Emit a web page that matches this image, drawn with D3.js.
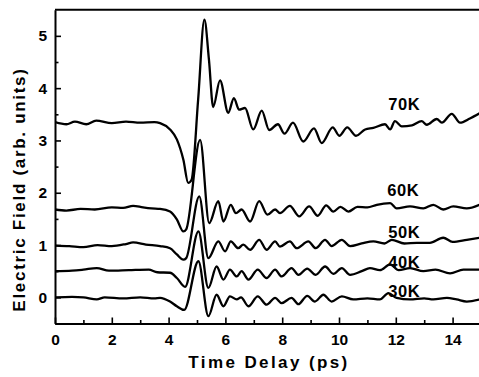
<!DOCTYPE html>
<html>
<head>
<meta charset="utf-8">
<script src="https://cdn.jsdelivr.net/npm/d3@7"></script>
<style>
  html, body { margin: 0; padding: 0; background: #fff; }
  svg { display: block; font-family: "Liberation Sans", Arial, sans-serif; }
</style>
</head>
<body>
<svg id="chart" width="479" height="377"></svg>
<script>
// ---- data (time in ps, field in arb. units) ----
const t70 = [0, 0.4, 0.7, 1.1, 1.45, 2.0, 2.5, 3.0, 3.5, 3.7, 4.05, 4.29, 4.52, 4.69, 4.81, 5.04, 5.26, 5.42, 5.57, 5.81, 6.10, 6.30, 6.48, 6.69, 6.98, 7.28, 7.54, 7.85, 8.08, 8.38, 8.74, 9.12, 9.39, 9.78, 10.01, 10.29, 10.60, 10.92, 11.21, 11.62, 11.80, 11.97, 12.21, 12.57, 12.91, 13.09, 13.44, 13.62, 13.97, 14.26, 14.61, 14.95];
const v70 = [3.35, 3.31, 3.36, 3.31, 3.38, 3.33, 3.36, 3.34, 3.35, 3.33, 3.21, 3.02, 2.63, 2.19, 2.25, 3.78, 5.31, 4.55, 3.64, 4.15, 3.53, 3.81, 3.59, 3.62, 3.21, 3.57, 3.20, 3.31, 3.13, 3.34, 2.98, 3.23, 2.95, 3.25, 3.09, 3.25, 3.09, 3.21, 3.24, 3.31, 3.21, 3.37, 3.27, 3.29, 3.37, 3.30, 3.41, 3.34, 3.51, 3.34, 3.42, 3.52];

const t60 = [0, 0.4, 0.9, 1.4, 2.0, 2.4, 2.75, 3.1, 3.4, 3.7, 4.05, 4.29, 4.52, 4.62, 5.11, 5.43, 5.75, 5.93, 6.19, 6.37, 6.57, 6.87, 7.19, 7.48, 7.75, 7.92, 8.27, 8.60, 8.95, 9.25, 9.55, 9.80, 10.05, 10.33, 10.65, 11.0, 11.33, 11.8, 12.03, 12.5, 12.97, 13.32, 13.67, 14.02, 14.5, 14.95];
const v60 = [1.68, 1.66, 1.69, 1.68, 1.72, 1.71, 1.75, 1.72, 1.70, 1.69, 1.64, 1.49, 1.26, 1.30, 3.01, 1.42, 1.84, 1.45, 1.77, 1.61, 1.68, 1.45, 1.84, 1.58, 1.68, 1.61, 1.75, 1.55, 1.74, 1.56, 1.76, 1.64, 1.73, 1.64, 1.73, 1.72, 1.77, 1.80, 1.70, 1.74, 1.70, 1.77, 1.68, 1.74, 1.70, 1.77];

const t50 = [0, 0.5, 1.0, 1.5, 2.0, 2.5, 2.75, 3.2, 3.7, 4.05, 4.29, 4.52, 4.62, 5.08, 5.40, 5.75, 5.99, 6.19, 6.45, 6.63, 6.87, 7.19, 7.45, 7.75, 7.92, 8.27, 8.51, 8.92, 9.18, 9.51, 9.74, 10.10, 10.39, 10.8, 11.21, 11.6, 11.86, 12.3, 12.74, 13.2, 13.67, 14.0, 14.5, 14.95];
const v50 = [0.99, 0.98, 0.96, 1.00, 0.98, 1.02, 1.05, 1.01, 0.98, 0.94, 0.82, 0.72, 0.75, 1.93, 0.75, 1.07, 0.88, 1.07, 0.94, 1.01, 0.91, 1.10, 0.91, 1.07, 0.97, 1.07, 0.94, 1.07, 0.94, 1.10, 0.98, 1.10, 0.98, 1.03, 1.07, 1.03, 1.10, 1.03, 1.04, 1.04, 1.14, 1.06, 1.10, 1.14];

const t40 = [0, 0.6, 1.0, 1.47, 1.9, 2.6, 3.3, 3.6, 4.05, 4.29, 4.58, 5.05, 5.40, 5.69, 5.93, 6.16, 6.40, 6.57, 6.81, 7.14, 7.45, 7.75, 7.98, 8.33, 8.57, 8.88, 9.18, 9.51, 9.80, 10.10, 10.39, 10.8, 11.09, 11.44, 11.80, 12.1, 12.5, 12.97, 13.4, 13.91, 14.38, 14.95];
const v40 = [0.50, 0.51, 0.53, 0.56, 0.51, 0.52, 0.53, 0.48, 0.47, 0.37, 0.20, 1.26, 0.18, 0.59, 0.34, 0.53, 0.40, 0.50, 0.34, 0.53, 0.37, 0.53, 0.40, 0.56, 0.43, 0.55, 0.43, 0.59, 0.45, 0.56, 0.43, 0.50, 0.56, 0.52, 0.63, 0.52, 0.56, 0.50, 0.53, 0.46, 0.53, 0.53];

const t30 = [0, 0.6, 1.0, 1.47, 1.75, 2.4, 3.0, 3.5, 3.7, 4.05, 4.29, 4.55, 5.05, 5.40, 5.69, 5.93, 6.16, 6.40, 6.55, 6.81, 7.14, 7.45, 7.75, 7.98, 8.33, 8.57, 8.88, 9.15, 9.45, 9.74, 10.10, 10.5, 11.0, 11.44, 11.74, 12.03, 12.5, 13.0, 13.32, 13.8, 14.14, 14.5, 14.95];
const v30 = [0.00, 0.01, 0.00, -0.04, 0.00, -0.02, 0.00, -0.02, -0.01, -0.08, -0.17, -0.24, 0.69, -0.36, 0.05, -0.17, 0.02, -0.04, 0.00, -0.17, 0.02, -0.14, -0.01, -0.11, -0.01, -0.13, 0.03, -0.08, 0.05, -0.08, 0.02, -0.04, -0.02, -0.04, 0.08, -0.01, -0.04, -0.02, -0.04, -0.01, -0.04, -0.08, -0.04];

const seriesNames = ["30K", "40K", "50K", "60K", "70K"];
const seriesTimes = [t30, t40, t50, t60, t70];
const seriesValues = [v30, v40, v50, v60, v70];
const labelTimes = [11.73, 11.73, 11.73, 11.7, 11.73];
const labelValues = [0.01, 0.57, 1.14, 1.93, 3.59];

const xTicks = [0, 2, 4, 6, 8, 10, 12, 14];
const xMinorTicks = [1, 3, 5, 7, 9, 11, 13, 15];
const yTicks = [0, 1, 2, 3, 4, 5];
const yMinorTicks = [-0.5, 0.5, 1.5, 2.5, 3.5, 4.5];

// ---- layout ----
const svg = d3.select("#chart");
const mLeft = 55, mRight = 481, mTop = 9.7, mBottom = 323.5;
const x = d3.scaleLinear().domain([0, 15]).range([mLeft, mRight]);
const y = d3.scaleLinear().domain([-0.5, 5.5]).range([mBottom, mTop]);

svg.append("defs").append("clipPath").attr("id", "plotclip")
  .append("rect").attr("x", mLeft).attr("y", mTop - 2).attr("width", mRight - mLeft).attr("height", mBottom - mTop + 2);

// curves
const line = d3.line()
  .x(d => x(d[0])).y(d => y(d[1]))
  .curve(d3.curveMonotoneX);

const g = svg.append("g").attr("clip-path", "url(#plotclip)");
seriesTimes.forEach((ts, i) => {
  const pts = ts.map((t, j) => [t, seriesValues[i][j]]);
  g.append("path").datum(pts)
    .attr("d", line)
    .attr("fill", "none")
    .attr("stroke", "#000")
    .attr("stroke-width", 2.3)
    .attr("stroke-linejoin", "round");
});

// labels
seriesNames.forEach((name, i) => {
  svg.append("text")
    .attr("x", x(labelTimes[i]))
    .attr("y", y(labelValues[i]))
    .attr("font-size", 16.5)
    .attr("font-weight", "bold")
    .attr("letter-spacing", 0.6)
    .text(name);
});

// top frame line
svg.append("line")
  .attr("x1", mLeft).attr("x2", 479)
  .attr("y1", y(5.5)).attr("y2", y(5.5))
  .attr("stroke", "#000").attr("stroke-width", 2);

// axes
const xAxis = svg.append("g").attr("transform", `translate(0,${mBottom})`)
  .call(d3.axisBottom(x).tickValues(xTicks).tickFormat(d3.format("d"))
    .tickSizeInner(-6).tickSizeOuter(0).tickPadding(10));
const xMinor = svg.append("g").attr("transform", `translate(0,${mBottom})`)
  .call(d3.axisBottom(x).tickValues(xMinorTicks).tickFormat("")
    .tickSizeInner(-3.5).tickSizeOuter(0));
xMinor.select(".domain").remove();

const yAxis = svg.append("g").attr("transform", `translate(${mLeft},0)`)
  .call(d3.axisLeft(y).tickValues(yTicks).tickFormat(d3.format("d"))
    .tickSizeInner(-6).tickSizeOuter(0).tickPadding(8));
const yMinor = svg.append("g").attr("transform", `translate(${mLeft},0)`)
  .call(d3.axisLeft(y).tickValues(yMinorTicks).tickFormat("")
    .tickSizeInner(-3.5).tickSizeOuter(0));
yMinor.select(".domain").remove();

[xAxis, yAxis].forEach(a => {
  a.select(".domain").attr("stroke-width", 2).attr("stroke", "#000");
  a.selectAll("text").attr("font-size", 15.5).attr("font-weight", "bold")
    .attr("font-family", "'Liberation Sans', Arial, sans-serif").attr("fill", "#000");
});
svg.selectAll(".tick line").attr("stroke", "#000").attr("stroke-width", 1.6);

// axis titles
svg.append("text")
  .attr("x", (mLeft + 479) / 2 + 2).attr("y", 368)
  .attr("text-anchor", "middle")
  .attr("font-size", 17).attr("font-weight", "bold")
  .attr("letter-spacing", 2.4)
  .text("Time Delay (ps)");

svg.append("text")
  .attr("transform", `translate(25,${189.5}) rotate(-90)`)
  .attr("text-anchor", "middle")
  .attr("font-size", 17).attr("font-weight", "bold")
  .attr("letter-spacing", 1.7)
  .text("Electric Field (arb. units)");
</script>
</body>
</html>
